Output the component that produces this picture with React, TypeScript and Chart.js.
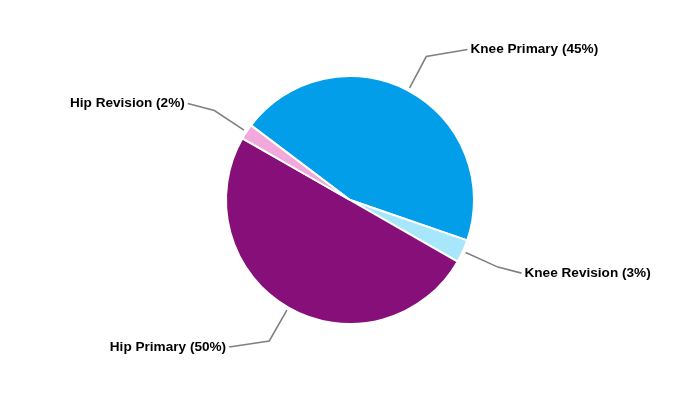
import React, { useEffect, useRef } from "react";
import { Chart, registerables } from "chart.js";

Chart.register(...registerables);

const categories = ["Knee Primary", "Knee Revision", "Hip Primary", "Hip Revision"];
const values = [45, 3, 50, 2];
const colors = ["#039EEA", "#A8E6FC", "#870F79", "#F1A8DC"];

const leaderPlugin = {
  id: "leaderLabels",
  afterDatasetsDraw(chart: any) {
    const ctx = chart.ctx;
    const meta = chart.getDatasetMeta(0);
    const data = chart.data.datasets[0].data as number[];
    const labels = chart.data.labels as string[];
    const total = data.reduce((a, b) => a + b, 0);
    ctx.save();
    meta.data.forEach((arc: any, i: number) => {
      const { x, y, startAngle, endAngle, outerRadius } = arc.getProps(
        ["x", "y", "startAngle", "endAngle", "outerRadius"],
        true
      );
      const mid = (startAngle + endAngle) / 2;
      const c = Math.cos(mid);
      const s = Math.sin(mid);
      const p0x = x + (outerRadius + 3) * c;
      const p0y = y + (outerRadius + 3) * s;
      const r1 = outerRadius * 1.31;
      const p1x = x + r1 * c;
      const p1y = y + r1 * s;
      const dir = c >= 0 ? 1 : -1;
      const L = 60 - 40 * Math.abs(c);
      const p2x = p1x + dir * L;
      const p2y = p1y + (s >= 0 ? 6 : -7);
      ctx.beginPath();
      ctx.strokeStyle = "#808080";
      ctx.lineWidth = 1.6;
      ctx.moveTo(p0x, p0y);
      ctx.lineTo(p1x, p1y);
      ctx.lineTo(p2x, p2y);
      ctx.stroke();
      const pct = Math.round((data[i] / total) * 100);
      ctx.fillStyle = "#000000";
      ctx.font = "bold 13.6px 'Liberation Sans', Arial, sans-serif";
      ctx.textBaseline = "middle";
      ctx.textAlign = dir > 0 ? "left" : "right";
      ctx.fillText(`${labels[i]} (${pct}%)`, p2x + dir * 3, p2y);
    });
    ctx.restore();
  },
};

export default function App() {
  const ref = useRef<HTMLCanvasElement | null>(null);
  useEffect(() => {
    if (!ref.current) return;
    const chart = new Chart(ref.current, {
      type: "pie",
      data: {
        labels: categories,
        datasets: [
          {
            data: values,
            backgroundColor: colors,
            borderColor: "#ffffff",
            borderWidth: 2,
          },
        ],
      },
      options: {
        responsive: false,
        animation: false,
        rotation: 307,
        layout: { padding: { top: 75, bottom: 75, left: 100, right: 100 } },
        plugins: {
          legend: { display: false },
          tooltip: { enabled: false },
        },
      },
      plugins: [leaderPlugin],
    });
    return () => chart.destroy();
  }, []);
  return (
    <div style={{ position: "fixed", left: 0, top: 0, width: 700, height: 400, background: "#fff" }}>
      <canvas ref={ref} width={700} height={400} />
    </div>
  );
}
